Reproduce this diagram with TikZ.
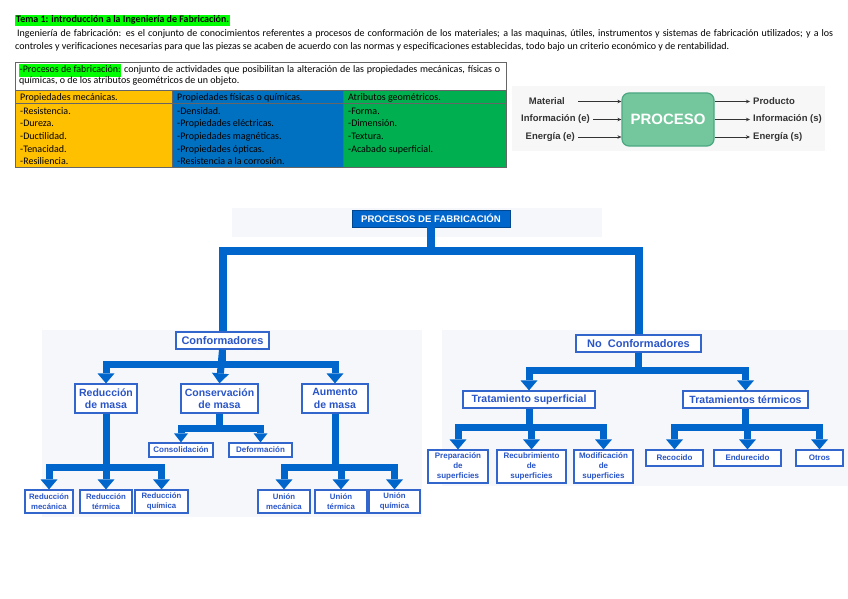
\documentclass[tikz,border=0pt]{standalone}
\usepackage{fontspec}
\setmainfont{Carlito}
\newfontfamily\arial{Liberation Sans}
\usetikzlibrary{arrows.meta,shadows}
\definecolor{hlgreen}{HTML}{00FF00}
\definecolor{tyellow}{HTML}{FFC000}
\definecolor{tblue}{HTML}{0070C0}
\definecolor{tgreen}{HTML}{00B050}
\definecolor{treeblue}{HTML}{0066CC}
\definecolor{boxblue}{HTML}{3366CC}
\definecolor{txtblue}{HTML}{2A55C8}
\definecolor{procfill}{HTML}{74C79C}
\definecolor{procdraw}{HTML}{4BA882}
\definecolor{panel}{HTML}{F6F7FB}
\definecolor{plabcol}{HTML}{333333}
\begin{document}
\begin{tikzpicture}[x=1pt,y=-1pt,
  txt/.style={inner sep=0, anchor=base west, font=\fontsize{10}{12}\selectfont},
  cell/.style={inner sep=0, anchor=base west, font=\fontsize{10}{12}\selectfont},
  tline/.style={draw=black!60, line width=0.7pt},
  plabel/.style={inner sep=0, font=\arial\bfseries\fontsize{9.5}{11}\selectfont, text=plabcol},
  parrow/.style={-{Stealth[length=4pt,width=3.5pt]}, line width=0.7pt, draw=plabcol},
  tbox/.style={draw=boxblue, line width=1.2pt, fill=white, text=txtblue, align=center, inner sep=0,
    drop shadow={shadow xshift=1.2pt, shadow yshift=-1.2pt, fill=black!25}},
  lvl1/.style={tbox, font=\arial\bfseries\fontsize{11}{13}\selectfont, minimum height=17pt},
  lvl2/.style={tbox, font=\arial\bfseries\fontsize{10.5}{12.3}\selectfont},
  lvl3/.style={tbox, font=\arial\bfseries\fontsize{8}{10}\selectfont},
  conn/.style={draw=treeblue, line width=7pt, line join=miter},
  arr/.style={conn, -{Triangle[width=17pt,length=10pt,line width=0pt]}},
  sarr/.style={conn, -{Triangle[width=14pt,length=9pt,line width=0pt]}}
]
\useasboundingbox (0,0) rectangle (848,599);
\fill[white] (0,0) rectangle (848,599);

% ---------- header text ----------
\node[txt, fill=hlgreen, inner xsep=1pt, inner ysep=0pt, font=\bfseries\fontsize{10}{12}\selectfont, text height=8pt, text depth=2.6pt] (title) at (15,23) {Tema 1: introducción a la Ingeniería de Fabricación.};
\node[txt] (par1) at (17,36.5) {\makebox[816pt][s]{Ingeniería de fabricación: es el conjunto de conocimientos referentes a procesos de conformación de los materiales; a las maquinas, útiles, instrumentos y sistemas de fabricación utilizados; y a los}};
\node[txt] (par2) at (15,49.5) {controles y verificaciones necesarias para que las piezas se acaben de acuerdo con las normas y especificaciones establecidas, todo bajo un criterio económico y de rentabilidad.};

% ---------- table ----------
\fill[tyellow] (15,90) rectangle (172,167);
\fill[tblue] (172,90) rectangle (343,167);
\fill[tgreen] (343,90) rectangle (506,167);
\draw[tline] (15,62) rectangle (506,167);
\draw[tline] (15,90) -- (506,90);
\draw[tline] (15,103.5) -- (506,103.5);
\draw[tline] (172,90) -- (172,167);
\draw[tline] (343,90) -- (343,167);

\node[cell] (def1) at (19,72.5) {\makebox[481pt][s]{{\setlength\fboxsep{0.5pt}\colorbox{hlgreen}{\strut-Procesos de fabricación:}} conjunto de actividades que posibilitan la alteración de las propiedades mecánicas, físicas o}};
\node[cell] (def2) at (19,84) {químicas, o de los atributos geométricos de un objeto.};

\node[cell] (h1) at (20,100.5) {Propiedades mecánicas.};
\node[cell] (h2) at (177,100.5) {Propiedades físicas o químicas.};
\node[cell] (h3) at (348,100.5) {Atributos geométricos.};

\node[cell] (m1) at (20,114) {-Resistencia.};
\node[cell] (m2) at (20,126.7) {-Dureza.};
\node[cell] (m3) at (20,139.4) {-Ductilidad.};
\node[cell] (m4) at (20,152.1) {-Tenacidad.};
\node[cell] (m5) at (20,164.8) {-Resiliencia.};
\node[cell] (f1) at (177,114) {-Densidad.};
\node[cell] (f2) at (177,126.7) {-Propiedades eléctricas.};
\node[cell] (f3) at (177,139.4) {-Propiedades magnéticas.};
\node[cell] (f4) at (177,152.1) {-Propiedades ópticas.};
\node[cell] (f5) at (177,164.8) {-Resistencia a la corrosión.};
\node[cell] (g1) at (348,114) {-Forma.};
\node[cell] (g2) at (348,126.7) {-Dimensión.};
\node[cell] (g3) at (348,139.4) {-Textura.};
\node[cell] (g4) at (348,152.1) {-Acabado superficial.};

% ---------- proceso ----------
\fill[black!3] (512,86) rectangle (825,151);
\node[draw=procdraw, fill=procfill, rounded corners=7pt, minimum width=92pt, minimum height=53pt, line width=1.2pt, text=white, font=\arial\bfseries\fontsize{15}{15}\selectfont, inner sep=0] (proc) at (668,119.5) {PROCESO};
\node[plabel, anchor=east] (mat) at (565,101.5) {Material};
\node[plabel, anchor=east] (infe) at (590,119.5) {Información (e)};
\node[plabel, anchor=east] (ene) at (575,137) {Energía (e)};
\node[plabel, anchor=west] (prod) at (753,101.5) {Producto};
\node[plabel, anchor=west] (infs) at (753,119.5) {Información (s)};
\node[plabel, anchor=west] (ens) at (753,137) {Energía (s)};
\draw[parrow, shorten <=13pt] (mat.east) -- (mat.east -| proc.west);
\draw[parrow, shorten <=3pt] (infe.east) -- (infe.east -| proc.west);
\draw[parrow, shorten <=3pt] (ene.east) -- (ene.east -| proc.west);
\draw[parrow, shorten >=3pt] (prod.west -| proc.east) -- (prod.west);
\draw[parrow, shorten >=3pt] (infs.west -| proc.east) -- (infs.west);
\draw[parrow, shorten >=3pt] (ens.west -| proc.east) -- (ens.west);

% ---------- tree panels ----------
\fill[panel] (232,208) rectangle (602,237);
\fill[panel] (42,330) rectangle (422,517);
\fill[panel] (442,330) rectangle (848,486);

% ---------- tree nodes ----------
\node[draw=treeblue!70!black, fill=treeblue, text=white, font=\arial\bfseries\fontsize{9.6}{11}\selectfont, minimum width=158pt, minimum height=17pt, inner sep=0, drop shadow={shadow xshift=1pt, shadow yshift=-1pt, fill=black!20}] (pf) at (431,218.5) {PROCESOS DE FABRICACIÓN};

\node[lvl1, minimum width=93pt] (conf) at (222.5,340.5) {Conformadores};
\node[lvl1, minimum width=125pt] (noconf) at (638.5,343.5) {No\ \ Conformadores};

\node[lvl2, minimum width=62pt, minimum height=29pt] (red) at (106,398.5) {Reducción\\de masa};
\node[lvl2, minimum width=77pt, minimum height=29pt] (cons) at (219.5,398.5) {Conservación\\de masa};
\node[lvl2, minimum width=66pt, minimum height=29pt] (aum) at (335,398.5) {Aumento\\de masa};

\node[lvl3, minimum width=64pt, minimum height=14pt] (consol) at (181,450) {Consolidación};
\node[lvl3, minimum width=63pt, minimum height=14pt] (defor) at (260.5,450) {Deformación};

\node[lvl3, minimum width=48pt, minimum height=23pt, font=\arial\bfseries\fontsize{7.8}{9.7}\selectfont] (rm) at (49,501.5) {Reducción\\mecánica};
\node[lvl3, minimum width=52pt, minimum height=23pt, font=\arial\bfseries\fontsize{7.8}{9.7}\selectfont] (rt) at (106,501.5) {Reducción\\térmica};
\node[lvl3, minimum width=53pt, minimum height=23pt, font=\arial\bfseries\fontsize{7.8}{9.7}\selectfont] (rq) at (161.5,501.5) {Reducción\\química};
\node[lvl3, minimum width=52pt, minimum height=23pt, font=\arial\bfseries\fontsize{7.8}{9.7}\selectfont] (um) at (284,501.5) {Unión\\mecánica};
\node[lvl3, minimum width=52pt, minimum height=23pt, font=\arial\bfseries\fontsize{7.8}{9.7}\selectfont] (ut) at (341,501.5) {Unión\\térmica};
\node[lvl3, minimum width=51pt, minimum height=23pt, font=\arial\bfseries\fontsize{7.8}{9.7}\selectfont] (uq) at (394.5,501.5) {Unión\\química};

\node[lvl2, minimum width=132pt, minimum height=17pt] (trs) at (529,399.5) {Tratamiento superficial};
\node[lvl2, minimum width=125pt, minimum height=17pt] (trt) at (745.5,399.5) {Tratamientos térmicos};

\node[lvl3, minimum width=60pt, minimum height=33pt, font=\arial\bfseries\fontsize{8}{10.3}\selectfont] (prep) at (458,466.5) {Preparación\\de\\superficies};
\node[lvl3, minimum width=69pt, minimum height=33pt, font=\arial\bfseries\fontsize{8}{10.3}\selectfont] (recu) at (531.5,466.5) {Recubrimiento\\de\\superficies};
\node[lvl3, minimum width=59pt, minimum height=33pt, font=\arial\bfseries\fontsize{8}{10.3}\selectfont] (modi) at (603.5,466.5) {Modificación\\de\\superficies};
\node[lvl3, minimum width=57pt, minimum height=16pt] (reco) at (674.5,458) {Recocido};
\node[lvl3, minimum width=67pt, minimum height=16pt] (endu) at (747.5,458) {Endurecido};
\node[lvl3, minimum width=47pt, minimum height=16pt] (otros) at (819.5,458) {Otros};

% ---------- bar coordinates ----------
\coordinate (b0) at (431,251);
\coordinate (b1) at (222.5,364);
\coordinate (b2) at (219.5,428);
\coordinate (b3) at (106,467);
\coordinate (b4) at (335,467);
\coordinate (b5) at (638.5,370);
\coordinate (b6) at (529,427);
\coordinate (b7) at (745.5,427);

% ---------- connectors ----------
\draw[conn, line width=8pt] (pf.south) -- (b0) -| (conf.north);
\draw[conn, line width=8pt] (pf.south) -- (b0) -| (noconf.north);

\draw[arr] (conf.south) -- (b1) -| (red.north);
\draw[arr] (conf.south) -- (cons.north);
\draw[arr] (conf.south) -- (b1) -| (aum.north);

\draw[sarr] (cons.south) -- (b2) -| (consol.north);
\draw[sarr] (cons.south) -- (b2) -| (defor.north);

\draw[arr] (red.south) -- (b3) -| (rm.north);
\draw[arr] (red.south) -- (rt.north);
\draw[arr] (red.south) -- (b3) -| (rq.north);

\draw[arr] (aum.south) -- (b4) -| (um.north);
\draw[arr] (aum.south) -- (b4) -| (ut.north);
\draw[arr] (aum.south) -- (b4) -| (uq.north);

\draw[arr] (noconf.south) -- (b5) -| (trs.north);
\draw[arr] (noconf.south) -- (b5) -| (trt.north);

\draw[arr] (trs.south) -- (b6) -| (prep.north);
\draw[arr] (trs.south) -- (b6) -| (recu.north);
\draw[arr] (trs.south) -- (b6) -| (modi.north);

\draw[arr] (trt.south) -- (b7) -| (reco.north);
\draw[arr] (trt.south) -- (b7) -| (endu.north);
\draw[arr] (trt.south) -- (b7) -| (otros.north);
\end{tikzpicture}
\end{document}
